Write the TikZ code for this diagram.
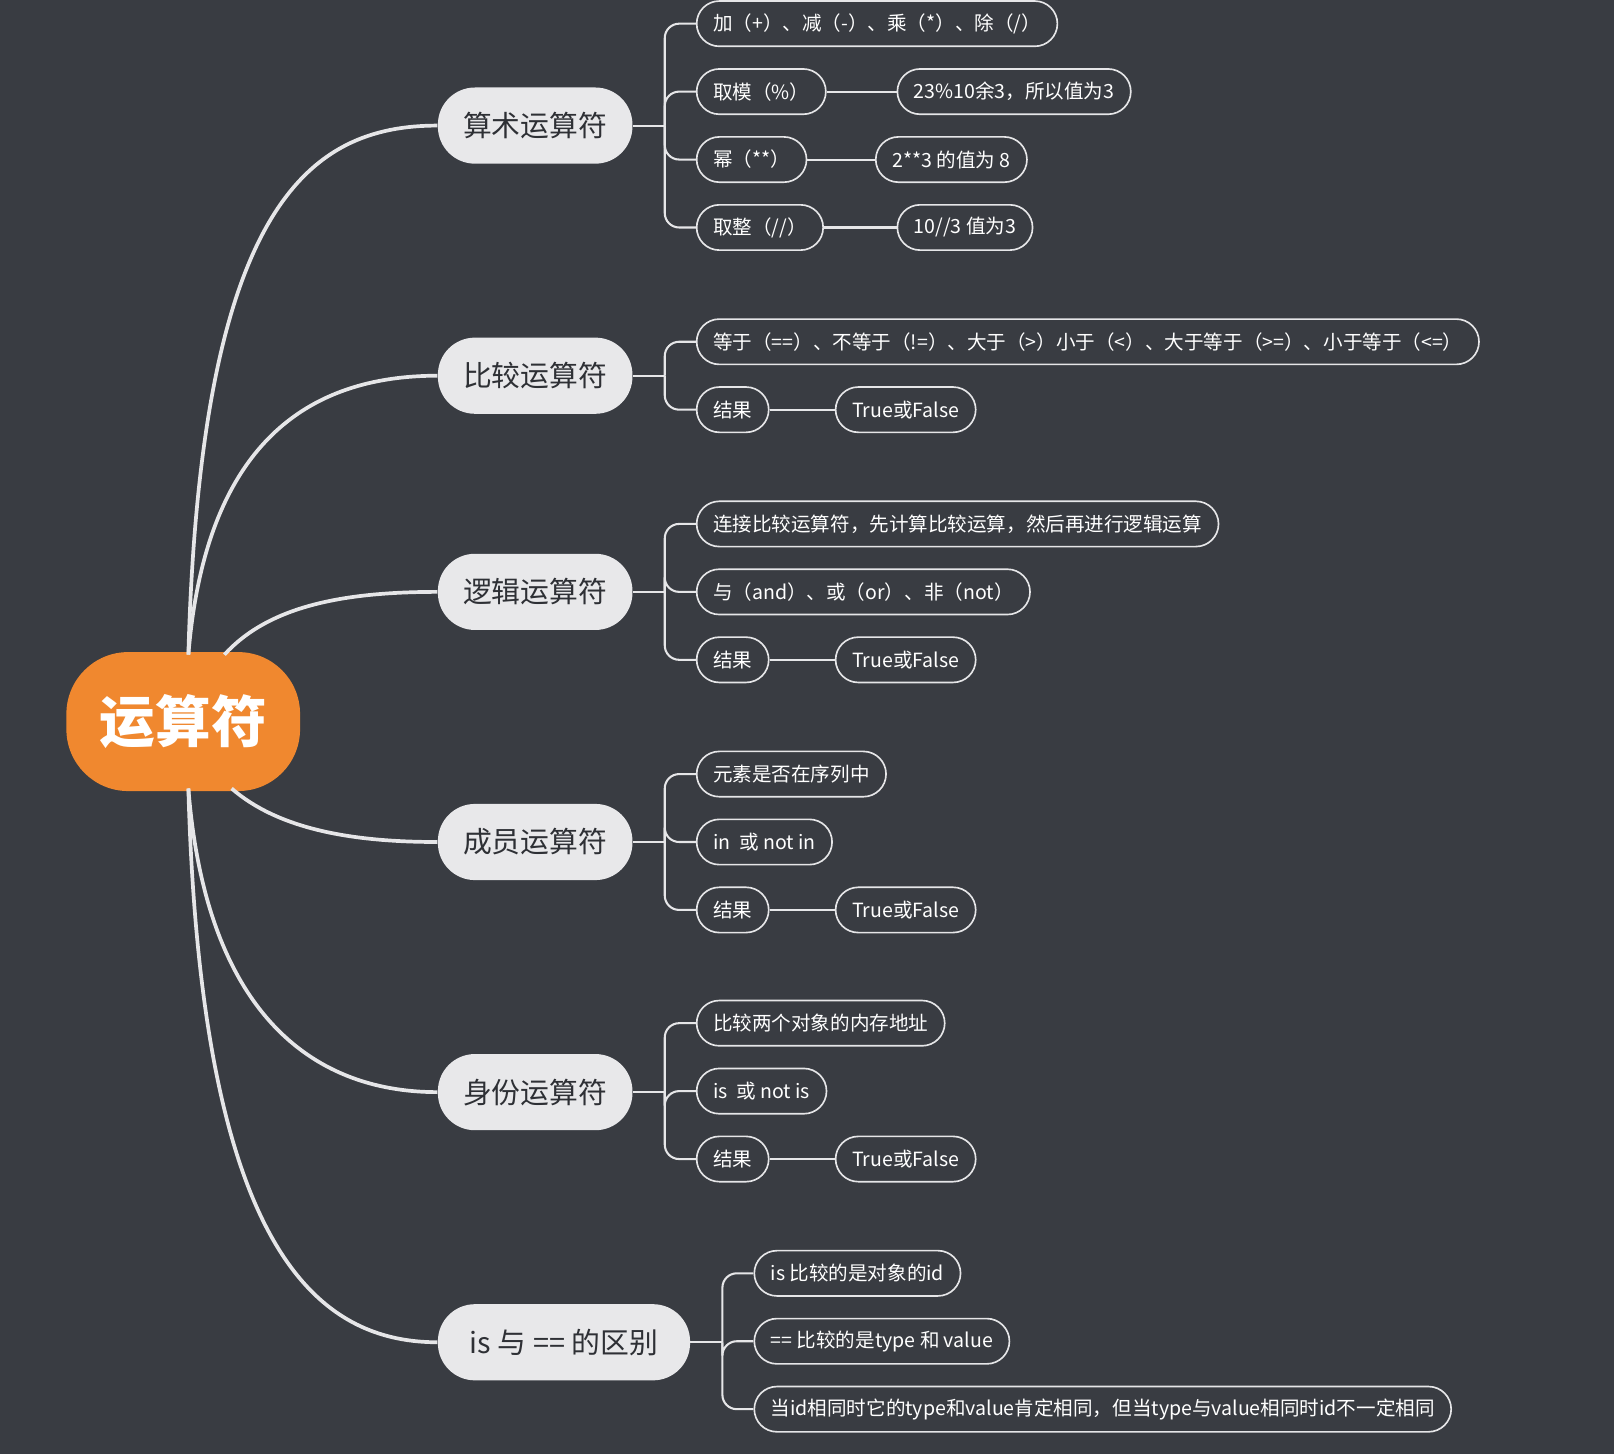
\documentclass[tikz,border=0pt]{standalone}
\usepackage{fontspec}
\setmainfont{Noto Sans CJK SC}
\usetikzlibrary{calc}
\definecolor{bg}{HTML}{393C42}
\definecolor{org}{HTML}{F0882F}
\definecolor{br}{HTML}{E8E8EA}
\definecolor{ln}{HTML}{E6E6E8}
\begin{document}
\begin{tikzpicture}[x=0.5pt,y=-0.5pt,
 root/.style={fill=org,rounded corners=30pt,minimum width=113.5pt,minimum height=67.5pt,text=white,font=\fontsize{27}{30}\selectfont\bfseries},
 br/.style={fill=br,rounded corners=18pt,minimum height=37pt,minimum width=94.5pt,text=bg!80!black,font=\fontsize{14}{16}\selectfont,anchor=west},
 lf/.style={draw=ln,line width=0.8pt,fill=bg,rounded corners=11pt,minimum height=22pt,inner xsep=8pt,text=white,font=\fontsize{9.5}{11}\selectfont,anchor=west},
 cu/.style={draw=ln,line width=1.8pt},
 bk/.style={draw=ln,line width=1pt,rounded corners=7pt}]
\fill[bg] (0,0) rectangle (1568,1413);
\useasboundingbox (0,0) rectangle (1568,1413);
\node[root] (R) at (178,701) {运算符};
\node[br] (b1) at (425,122) {算术运算符};
\node[br] (b2) at (425,365) {比较运算符};
\node[br] (b3) at (425,575) {逻辑运算符};
\node[br] (b4) at (425,818) {成员运算符};
\node[br] (b5) at (425,1061) {身份运算符};
\node[br,minimum width=122.5pt] (b6) at (425,1304) {is 与 == 的区别};
\coordinate (s1) at (183,636); \coordinate (s3) at (218,636);
\coordinate (s4) at (225,766); \coordinate (s5) at (183,766);
\draw[cu] (s1) .. controls (195,200) and (300,122) .. (b1.west);
\draw[cu] (s1) .. controls (200,430) and (300,365) .. (b2.west);
\draw[cu] (s3) .. controls (260,590) and (330,575) .. (b3.west);
\draw[cu] (s4) .. controls (270,805) and (340,818) .. (b4.west);
\draw[cu] (s5) .. controls (200,980) and (300,1061) .. (b5.west);
\draw[cu] (s5) .. controls (195,1200) and (300,1304) .. (b6.west);
% leaves
\node[lf] (a1) at (676,23) {加（+）、减（-）、乘（*）、除（/）};
\node[lf] (a2) at (676,89) {取模（\%）};
\node[lf] (a3) at (676,155) {幂（**）};
\node[lf] (a4) at (676,221) {取整（//）};
\node[lf] (a2b) at (871,89) {23\%10余3，所以值为3};
\node[lf] (a3b) at (850,155) {2**3 的值为 8};
\node[lf] (a4b) at (871,221) {10//3 值为3};
\node[lf] (c1) at (676,332) {等于（==）、不等于（!=）、大于（>）小于（<）、大于等于（>=）、小于等于（<=）};
\node[lf] (c2) at (676,398) {结果};
\node[lf] (c2b) at (811,398) {True或False};
\node[lf] (l1) at (676,509) {连接比较运算符，先计算比较运算，然后再进行逻辑运算};
\node[lf] (l2) at (676,575) {与（and）、或（or）、非（not）};
\node[lf] (l3) at (676,641) {结果};
\node[lf] (l3b) at (811,641) {True或False};
\node[lf] (m1) at (676,752) {元素是否在序列中};
\node[lf] (m2) at (676,818) {in\ \ 或 not in};
\node[lf] (m3) at (676,884) {结果};
\node[lf] (m3b) at (811,884) {True或False};
\node[lf] (i1) at (676,994) {比较两个对象的内存地址};
\node[lf] (i2) at (676,1060) {is\ \ 或 not is};
\node[lf] (i3) at (676,1126) {结果};
\node[lf] (i3b) at (811,1126) {True或False};
\node[lf] (d1) at (732,1237) {is 比较的是对象的id};
\node[lf] (d2) at (732,1303) {== 比较的是type 和 value};
\node[lf] (d3) at (732,1369) {当id相同时它的type和value肯定相同，但当type与value相同时id不一定相同};
% brackets
\foreach \b/\L in {b1/{a1,a2,a3,a4},b2/{c1,c2},b3/{l1,l2,l3},b4/{m1,m2,m3},b5/{i1,i2,i3},b6/{d1,d2,d3}}{
  \coordinate (j) at ($(\b.east)+(31,0)$);
  \draw[ln,line width=1pt] (\b.east) -- (j);
  \foreach \l in \L {\draw[bk] (\l.west) -| (j);}
}
\foreach \p/\q in {a2/a2b,a3/a3b,a4/a4b,c2/c2b,l3/l3b,m3/m3b,i3/i3b}
  \draw[ln,line width=1pt] (\p.east) -- (\q.west);
\end{tikzpicture}
\end{document}
